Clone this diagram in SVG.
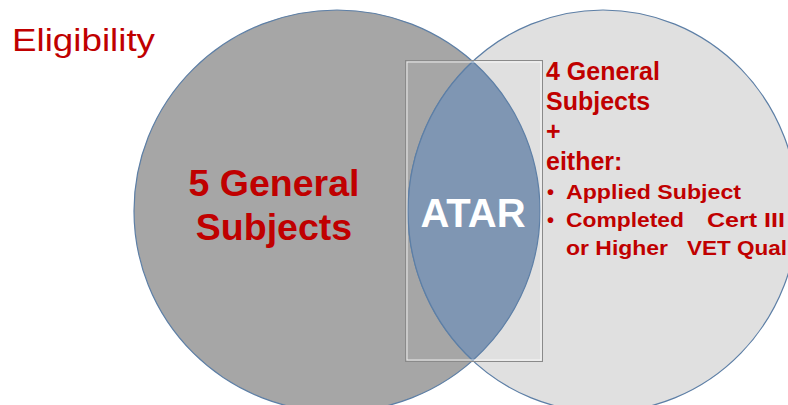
<svg xmlns="http://www.w3.org/2000/svg" width="788" height="405" viewBox="0 0 788 405">
<style>
.circ{stroke:#5d7fa6;stroke-width:1.2}
.red{fill:#c00000;font-family:"Liberation Sans",Arial,sans-serif;font-weight:bold}
.title{fill:#c00000;font-family:"Liberation Sans",Arial,sans-serif;font-size:32px}
</style>
<rect width="788" height="405" fill="#ffffff"/>
<g id="left-circle">
<ellipse class="circ" cx="337" cy="211" rx="203" ry="201" fill="#a6a6a6"/>
</g>
<g id="right-circle">
<ellipse class="circ" cx="603" cy="211" rx="195" ry="201" fill="#e0e0e0"/>
</g>
<g id="atar">
<path class="circ" d="M 472.7 61.5 A 203 201 0 0 1 472.7 360.5 A 195 201 0 0 1 472.7 61.5 Z" fill="#7f96b3"/>
<text x="473" y="227" text-anchor="middle" font-family="'Liberation Sans',Arial,sans-serif" font-weight="bold" font-size="40" fill="#ffffff">ATAR</text>
</g>
<g id="frame">
<rect x="405.5" y="60.5" width="137" height="301" fill="none" stroke="#8a8a8a" stroke-width="1"/>
<rect x="407" y="62" width="134" height="298" fill="none" stroke="#ffffff" stroke-width="1" opacity="0.8"/>
</g>
<g id="title">
<text class="title" x="12" y="51" textLength="143" lengthAdjust="spacingAndGlyphs">Eligibility</text>
</g>
<g id="left-label">
<text class="red" font-size="37.5" text-anchor="middle" x="274" y="196">5 General</text>
<text class="red" font-size="37.5" text-anchor="middle" x="274" y="240">Subjects</text>
</g>
<g id="right-label">
<text class="red" font-size="25" x="546" y="80">4 General</text>
<text class="red" font-size="25" x="546" y="110">Subjects</text>
<text class="red" font-size="25" x="546" y="140">+</text>
<text class="red" font-size="25" x="546" y="170">either:</text>
<text class="red" font-size="20" x="547" y="199">•</text>
<text class="red" font-size="20" x="566" y="199" textLength="175" lengthAdjust="spacingAndGlyphs">Applied Subject</text>
<text class="red" font-size="20" x="547" y="227">•</text>
<text class="red" font-size="20" x="566" y="227" textLength="118" lengthAdjust="spacingAndGlyphs">Completed</text>
<text class="red" font-size="20" x="707" y="227" textLength="78" lengthAdjust="spacingAndGlyphs">Cert III</text>
<text class="red" font-size="20" x="566" y="255" textLength="102" lengthAdjust="spacingAndGlyphs">or Higher</text>
<text class="red" font-size="20" x="687" y="255" textLength="100" lengthAdjust="spacingAndGlyphs">VET Qual</text>
</g>
</svg>
